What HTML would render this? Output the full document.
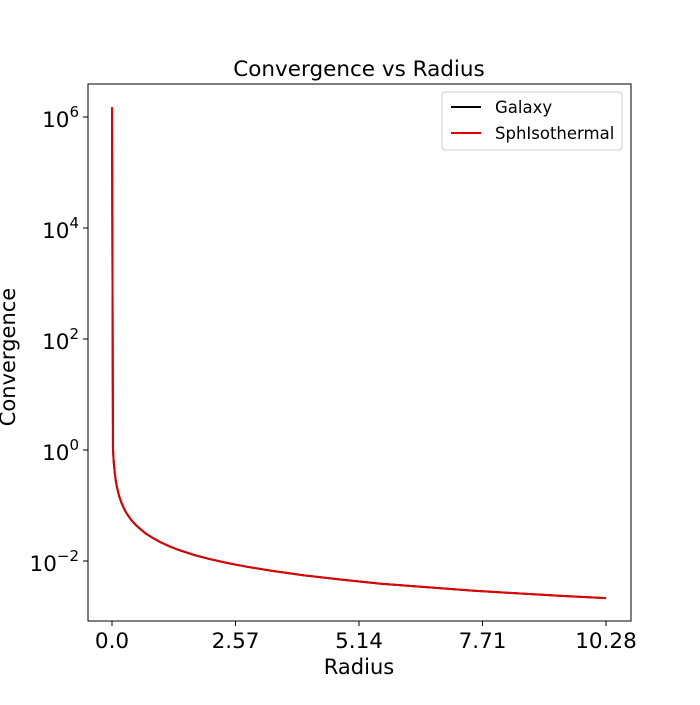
<!DOCTYPE html>
<html><head><meta charset="utf-8"><style>
body{margin:0;background:#fff;}
svg text{font-family:"DejaVu Sans","Liberation Sans",sans-serif;fill:#000;}
</style></head><body>
<svg id="chart" width="700" height="700" xmlns="http://www.w3.org/2000/svg">
<rect width="700" height="700" fill="#fff"/>
<text x="359" y="76" font-size="21.5" text-anchor="middle">Convergence vs Radius</text>
<g id="axes"></g>
<g id="series"></g>
<rect x="88" y="84" width="543" height="537" fill="none" stroke="#000" stroke-width="1"/>
<text x="359" y="674" font-size="21" text-anchor="middle">Radius</text>
<text transform="translate(15,357) rotate(-90)" font-size="21" text-anchor="middle">Convergence</text>
<g>
<rect x="442" y="92" width="180" height="58" rx="3" fill="#fff" stroke="#ccc"/>
<line x1="451" y1="107" x2="481" y2="107" stroke="#000" stroke-width="2"/>
<text x="495" y="113" font-size="16.5">Galaxy</text>
<line x1="451" y1="133" x2="481" y2="133" stroke="#e00000" stroke-width="2"/>
<text x="495" y="139" font-size="16.5">SphIsothermal</text>
</g>
</svg>
<script>
const radii = [0.00001, 0.02, 0.03, 0.04, 0.06, 0.08, 0.1, 0.13, 0.16, 0.2, 0.25, 0.3, 0.4, 0.5, 0.6, 0.7, 0.85, 1, 1.2, 1.4, 1.7, 2, 2.4, 2.8, 3.3, 4, 4.8, 5.6, 6.5, 7.5, 8.5, 9.4, 10.28];
const galaxyValues = [1.5e6, 1.1, 0.73, 0.55, 0.37, 0.275, 0.22, 0.17, 0.1375, 0.11, 0.088, 0.073, 0.055, 0.044, 0.037, 0.0314, 0.0259, 0.022, 0.0183, 0.0157, 0.0129, 0.011, 0.0092, 0.0079, 0.0067, 0.0055, 0.0046, 0.0039, 0.0034, 0.00293, 0.00259, 0.00234, 0.00214];
const isoValues = [1.5e6, 1.1, 0.73, 0.55, 0.37, 0.275, 0.22, 0.17, 0.1375, 0.11, 0.088, 0.073, 0.055, 0.044, 0.037, 0.0314, 0.0259, 0.022, 0.0183, 0.0157, 0.0129, 0.011, 0.0092, 0.0079, 0.0067, 0.0055, 0.0046, 0.0039, 0.0034, 0.00293, 0.00259, 0.00234, 0.00214];
const xTicks = [0.0, 2.57, 5.14, 7.71, 10.28];
const xTickLabels = ["0.0", "2.57", "5.14", "7.71", "10.28"];
const yTickExps = [-2, 0, 2, 4, 6];

const NS = "http://www.w3.org/2000/svg";
function xs(v){ return 112 + v * (494/10.28); }
function ys(v){ return 450 - Math.log10(v) * 55.5; }
const axes = document.getElementById('axes');
xTicks.forEach((t,i)=>{
  const x = xs(t);
  const l = document.createElementNS(NS,'line');
  l.setAttribute('x1',x); l.setAttribute('x2',x); l.setAttribute('y1',621); l.setAttribute('y2',626);
  l.setAttribute('stroke','#000');
  
  
  axes.appendChild(l);
  const tx = document.createElementNS(NS,'text');
  tx.setAttribute('x',x); tx.setAttribute('y',648); tx.setAttribute('font-size','21.5'); tx.setAttribute('text-anchor','middle');
  tx.textContent = xTickLabels[i];
  
  
  axes.appendChild(tx);
});
yTickExps.forEach(e=>{
  const y = ys(Math.pow(10,e));
  const l = document.createElementNS(NS,'line');
  l.setAttribute('x1',83); l.setAttribute('x2',88); l.setAttribute('y1',y); l.setAttribute('y2',y);
  l.setAttribute('stroke','#000');
  
  
  axes.appendChild(l);
  const tx = document.createElementNS(NS,'text');
  tx.setAttribute('x',79); tx.setAttribute('y',y+10); tx.setAttribute('font-size','21.5'); tx.setAttribute('text-anchor','end');
  tx.innerHTML = '10<tspan dy="-10" font-size="15">' + (e<0?'\u2212'+(-e):e) + '</tspan>';
  
  
  axes.appendChild(tx);
});
const series = document.getElementById('series');
function drawLine(vals, color, name){
  const p = document.createElementNS(NS,'polyline');
  p.setAttribute('points', radii.map((r,i)=>xs(r).toFixed(2)+','+ys(vals[i]).toFixed(2)).join(' '));
  p.setAttribute('fill','none'); p.setAttribute('stroke',color); p.setAttribute('stroke-width','2');
  p.setAttribute('stroke-linejoin','round');
  
  
  series.appendChild(p);
}
drawLine(galaxyValues,'#000','galaxy-line');
drawLine(isoValues,'#e00000','sphisothermal-line');
</script>
</body></html>
